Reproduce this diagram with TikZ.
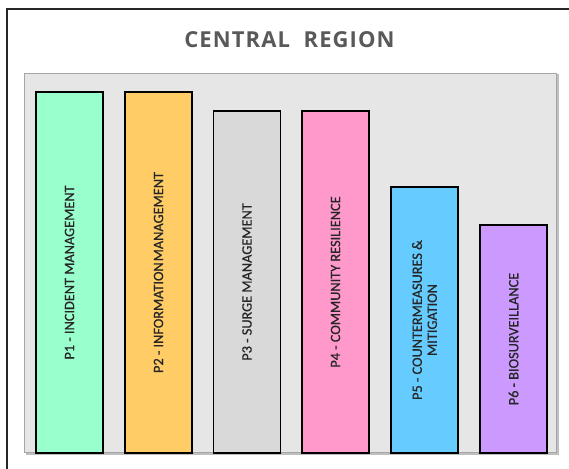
\documentclass[tikz,border=0pt]{standalone}
\usepackage{fontspec}
\setmainfont{Carlito}
\newfontface\barfont{Carlito}[FakeBold=0.7]
\newfontfamily\titlefont[LetterSpace=5]{Open Sans}
\definecolor{panelfill}{HTML}{E6E6E6}
\definecolor{panelline}{HTML}{A6A6A6}
\definecolor{panelshadow}{HTML}{BFBFBF}
\definecolor{titlegray}{HTML}{595959}
\definecolor{cP1}{HTML}{99FFCC}
\definecolor{cP2}{HTML}{FFCC66}
\definecolor{cP3}{HTML}{D9D9D9}
\definecolor{cP4}{HTML}{FF99CC}
\definecolor{cP5}{HTML}{66CCFF}
\definecolor{cP6}{HTML}{CC99FF}
\tikzset{
  bar/.style={draw=black, line width=1.5pt, rotate=90, minimum height=67pt,
    inner sep=0pt, align=center, font=\barfont\fontsize{14.3}{15}\selectfont, text=black!85},
}
\begin{document}
\begin{tikzpicture}[x=1pt,y=1pt]
\useasboundingbox (0,0) rectangle (569,468);
\clip (0,0) rectangle (569,468);
\fill[white] (0,0) rectangle (569,468);
% outer frame
\draw[line width=2pt, black!85] (7,-10) -- (7,459) -- (580,459);
% title
\node (title) at (289.5,428.5) {\titlefont\bfseries\fontsize{22}{24}\selectfont\color{titlegray}CENTRAL\ \ REGION};
% panel shadow and panel
\fill[panelshadow] (25.5,13.5) rectangle (558.5,394);
\node[draw=panelline, fill=panelfill, line width=1pt, minimum width=532pt, minimum height=379pt, inner sep=0pt] (panel) at (290,205) {};
% bars
\node[bar, fill=cP1, minimum width=361pt] (p1) at (69.5,195.5) {P1 - INCIDENT MANAGEMENT};
\node[bar, fill=cP2, minimum width=361pt] (p2) at (158.5,195.5) {P2 - INFORMATION\kern1pt MANAGEMENT};
\node[bar, fill=cP3, minimum width=342pt] (p3) at (247,186) {P3 - SURGE MANAGEMENT};
\node[bar, fill=cP4, minimum width=342pt] (p4) at (335.5,186) {P4 - COMMUNITY RESILIENCE};
\node[bar, fill=cP5, minimum width=266pt] (p5) at (424.5,148) {P5 - COUNTERMEASURES \&\\MITIGATION};
\node[bar, fill=cP6, minimum width=228pt] (p6) at (513.5,129) {P6 - BIOSURVEILLANCE};
\end{tikzpicture}
\end{document}
